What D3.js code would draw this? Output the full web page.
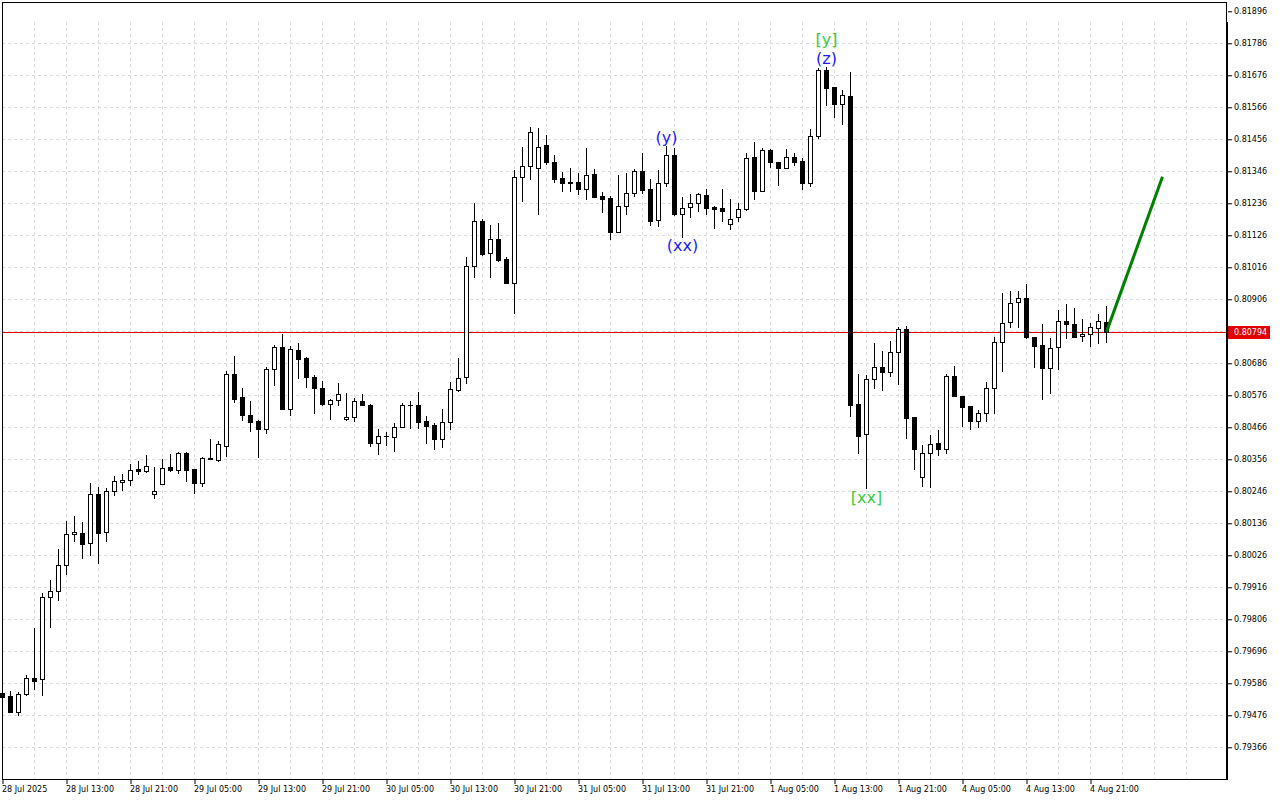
<!DOCTYPE html>
<html>
<head>
<meta charset="utf-8">
<script src="https://cdn.jsdelivr.net/npm/d3@7"></script>
<style>
  html, body { margin: 0; padding: 0; background: #fff; }
  svg { display: block; }
</style>
</head>
<body>
<svg id="chart"></svg>
<script>
// hourly bars, 28 Jul 05:00 .. 4 Aug 23:00
var opens = [
  0.79554,0.79542,0.79488,0.79548,0.79604,0.79600,0.79882,0.79902,0.79992,0.80098,
  0.80103,0.80067,0.80236,0.80107,0.80246,0.80279,0.80284,0.80322,0.80315,0.80236,
  0.80272,0.80329,0.80318,0.80377,0.80322,0.80276,0.80358,0.80355,0.80403,0.80649,
  0.80570,0.80508,0.80488,0.80461,0.80665,0.80741,0.80530,0.80732,0.80704,0.80639,
  0.80601,0.80545,0.80559,0.80493,0.80500,0.80555,0.80543,0.80413,0.80435,0.80433,
  0.80468,0.80542,0.80543,0.80487,0.80474,0.80427,0.80485,0.80595,0.80638,0.81019,
  0.81174,0.81064,0.81113,0.81043,0.80961,0.81325,0.81363,0.81356,0.81436,0.81377,
  0.81322,0.81309,0.81309,0.81284,0.81337,0.81260,0.81254,0.81138,0.81227,0.81270,
  0.81347,0.81285,0.81178,0.81305,0.81402,0.81200,0.81222,0.81236,0.81263,0.81223,
  0.81220,0.81164,0.81190,0.81215,0.81394,0.81279,0.81418,0.81377,0.81358,0.81394,
  0.81381,0.81307,0.81466,0.81694,0.81636,0.81578,0.81605,0.80546,0.80442,0.80631,
  0.80673,0.80657,0.80724,0.80803,0.80500,0.80294,0.80377,0.80411,0.80390,0.80641,
  0.80574,0.80539,0.80489,0.80514,0.80600,0.80758,0.80827,0.80896,0.80909,0.80775,
  0.80749,0.80671,0.80741,0.80831,0.80821,0.80779,0.80786,0.80806,0.80827
];
var highs = [
  0.79560,0.79561,0.79556,0.79614,0.79775,0.79896,0.79941,0.80048,0.80145,0.80161,
  0.80141,0.80273,0.80260,0.80256,0.80299,0.80305,0.80339,0.80350,0.80370,0.80329,
  0.80357,0.80374,0.80381,0.80381,0.80323,0.80364,0.80425,0.80418,0.80658,0.80711,
  0.80600,0.80556,0.80490,0.80674,0.80750,0.80787,0.80745,0.80755,0.80708,0.80645,
  0.80625,0.80563,0.80618,0.80583,0.80566,0.80579,0.80545,0.80459,0.80449,0.80482,
  0.80549,0.80557,0.80586,0.80506,0.80480,0.80529,0.80622,0.80704,0.81052,0.81237,
  0.81182,0.81161,0.81167,0.81052,0.81350,0.81429,0.81499,0.81495,0.81471,0.81402,
  0.81343,0.81356,0.81339,0.81425,0.81353,0.81275,0.81260,0.81333,0.81339,0.81353,
  0.81408,0.81318,0.81350,0.81434,0.81425,0.81257,0.81268,0.81272,0.81284,0.81227,
  0.81285,0.81250,0.81237,0.81408,0.81446,0.81426,0.81421,0.81378,0.81421,0.81410,
  0.81392,0.81490,0.81702,0.81706,0.81636,0.81625,0.81686,0.80649,0.80646,0.80756,
  0.80728,0.80763,0.80812,0.80814,0.80501,0.80404,0.80438,0.80457,0.80649,0.80677,
  0.80574,0.80539,0.80525,0.80622,0.80775,0.80927,0.80934,0.80934,0.80958,0.80776,
  0.80821,0.80773,0.80869,0.80890,0.80876,0.80838,0.80823,0.80855,0.80883
];
var lows = [
  0.79532,0.79487,0.79477,0.79546,0.79566,0.79546,0.79781,0.79872,0.79962,0.80076,
  0.80018,0.80027,0.80001,0.80076,0.80234,0.80250,0.80267,0.80304,0.80314,0.80222,
  0.80271,0.80317,0.80308,0.80282,0.80241,0.80264,0.80357,0.80349,0.80368,0.80554,
  0.80491,0.80454,0.80365,0.80447,0.80612,0.80529,0.80509,0.80636,0.80603,0.80514,
  0.80544,0.80493,0.80542,0.80491,0.80489,0.80541,0.80403,0.80373,0.80405,0.80386,
  0.80467,0.80465,0.80463,0.80413,0.80392,0.80399,0.80460,0.80590,0.80617,0.80982,
  0.81058,0.80984,0.81039,0.80962,0.80860,0.81245,0.81318,0.81200,0.81370,0.81310,
  0.81277,0.81277,0.81269,0.81250,0.81258,0.81207,0.81112,0.81137,0.81198,0.81261,
  0.81270,0.81162,0.81158,0.81296,0.81195,0.81121,0.81190,0.81211,0.81198,0.81150,
  0.81176,0.81149,0.81176,0.81214,0.81252,0.81278,0.81360,0.81298,0.81357,0.81368,
  0.81286,0.81294,0.81459,0.81574,0.81534,0.81509,0.80506,0.80379,0.80256,0.80600,
  0.80595,0.80643,0.80614,0.80428,0.80324,0.80265,0.80262,0.80372,0.80377,0.80572,
  0.80470,0.80461,0.80468,0.80489,0.80516,0.80661,0.80812,0.80810,0.80774,0.80674,
  0.80564,0.80585,0.80666,0.80772,0.80776,0.80764,0.80746,0.80757,0.80760
];
var closes = [
  0.79540,0.79488,0.79548,0.79603,0.79595,0.79883,0.79903,0.79992,0.80099,0.80106,
  0.80066,0.80236,0.80104,0.80246,0.80280,0.80284,0.80318,0.80315,0.80333,0.80246,
  0.80326,0.80318,0.80377,0.80320,0.80276,0.80360,0.80359,0.80408,0.80649,0.80564,
  0.80507,0.80485,0.80461,0.80665,0.80741,0.80530,0.80734,0.80702,0.80638,0.80600,
  0.80545,0.80560,0.80579,0.80500,0.80555,0.80542,0.80413,0.80435,0.80436,0.80468,
  0.80543,0.80544,0.80485,0.80471,0.80427,0.80483,0.80597,0.80635,0.81020,0.81174,
  0.81063,0.81112,0.81041,0.80963,0.81325,0.81363,0.81480,0.81428,0.81379,0.81321,
  0.81305,0.81305,0.81284,0.81332,0.81259,0.81250,0.81138,0.81228,0.81270,0.81347,
  0.81282,0.81176,0.81305,0.81402,0.81199,0.81219,0.81236,0.81268,0.81221,0.81217,
  0.81211,0.81181,0.81215,0.81391,0.81279,0.81418,0.81377,0.81358,0.81394,0.81379,
  0.81307,0.81466,0.81694,0.81633,0.81578,0.81607,0.80543,0.80436,0.80631,0.80672,
  0.80657,0.80724,0.80803,0.80499,0.80392,0.80377,0.80410,0.80390,0.80641,0.80574,
  0.80537,0.80489,0.80514,0.80600,0.80758,0.80826,0.80892,0.80909,0.80775,0.80746,
  0.80671,0.80738,0.80831,0.80822,0.80777,0.80787,0.80810,0.80830,0.80794
];

var timeLabels = ["28 Jul 2025","28 Jul 13:00","28 Jul 21:00","29 Jul 05:00","29 Jul 13:00",
  "29 Jul 21:00","30 Jul 05:00","30 Jul 13:00","30 Jul 21:00","31 Jul 05:00","31 Jul 13:00",
  "31 Jul 21:00","1 Aug 05:00","1 Aug 13:00","1 Aug 21:00","4 Aug 05:00","4 Aug 13:00","4 Aug 21:00"];
var timeLabelBars = [0,8,16,24,32,40,48,56,64,72,80,88,96,104,112,120,128,136];

var priceGrid = [0.81896,0.81786,0.81676,0.81566,0.81456,0.81346,0.81236,0.81126,0.81016,0.80906,
  0.80796,0.80686,0.80576,0.80466,0.80356,0.80246,0.80136,0.80026,0.79916,0.79806,0.79696,
  0.79586,0.79476,0.79366];
var priceLabels = [0.81896,0.81786,0.81676,0.81566,0.81456,0.81346,0.81236,0.81126,0.81016,0.80906,
  0.80686,0.80576,0.80466,0.80356,0.80246,0.80136,0.80026,0.79916,0.79806,0.79696,
  0.79586,0.79476,0.79366];
var currentPrice = 0.80794;

var forecastBars = [138, 145];
var forecastPrices = [0.80794, 0.81327];

var waveLabels = ["(y)", "(xx)", "(z)", "[y]", "[xx]"];
var waveBars = [83, 85, 103, 103, 108];
var waveSides = ["top", "bottom", "top", "top", "bottom"];

// layout
var W = 1280, H = 800;
var plot = { left: 2, top: 2, right: 1226, bottom: 779 };
var font = "'DejaVu Sans', sans-serif";

var svg = d3.select("#chart").attr("width", W).attr("height", H);
svg.append("rect").attr("width", W).attr("height", H).attr("fill", "#fff");

var x = d3.scaleLinear().domain([0, 1]).range([2.5, 10.5]);
var y = d3.scaleLinear().domain([0.79366, 0.81896]).range([747.3, 11.3]);

function py(v){ return Math.round(y(v)) + 0.5; }

// grid
var grid = svg.append("g")
  .attr("stroke", "#dcdcdc")
  .attr("stroke-dasharray", "3,3")
  .attr("fill", "none");

grid.selectAll("line.h")
  .data(priceGrid.slice(1))
  .enter().append("line")
  .attr("x1", plot.left).attr("x2", plot.right - 3)
  .attr("y1", function(d){ return py(d); })
  .attr("y2", function(d){ return py(d); });

grid.selectAll("line.v")
  .data(d3.range(4, 152, 4))
  .enter().append("line")
  .attr("x1", function(d){ return x(d); })
  .attr("x2", function(d){ return x(d); })
  .attr("y1", 22).attr("y2", plot.bottom);

// current price line
svg.append("line")
  .attr("x1", plot.left).attr("x2", plot.right)
  .attr("y1", py(currentPrice)).attr("y2", py(currentPrice))
  .attr("stroke", "#e00000");

// candles
var bars = d3.range(opens.length).map(function(i){
  return { i: i, o: opens[i], h: highs[i], l: lows[i], c: closes[i] };
});

var cg = svg.append("g");

cg.selectAll("line.wick")
  .data(bars)
  .enter().append("line")
  .attr("x1", function(d){ return x(d.i); })
  .attr("x2", function(d){ return x(d.i); })
  .attr("y1", function(d){ return Math.round(y(d.h)); })
  .attr("y2", function(d){ return Math.round(y(d.l)) + 1; })
  .attr("stroke", "#000");

cg.selectAll("rect.body")
  .data(bars.filter(function(d){ return Math.abs(py(d.o) - py(d.c)) >= 1; }))
  .enter().append("rect")
  .attr("x", function(d){ return x(d.i) - 2; })
  .attr("width", 4)
  .attr("y", function(d){ return Math.min(py(d.o), py(d.c)); })
  .attr("height", function(d){ return Math.abs(py(d.o) - py(d.c)); })
  .attr("fill", function(d){ return d.c < d.o ? "#000" : "#fff"; })
  .attr("stroke", "#000");

// doji
cg.selectAll("line.doji")
  .data(bars.filter(function(d){ return Math.abs(py(d.o) - py(d.c)) < 1; }))
  .enter().append("line")
  .attr("x1", function(d){ return x(d.i) - 2.5; })
  .attr("x2", function(d){ return x(d.i) + 2.5; })
  .attr("y1", function(d){ return py(d.c); })
  .attr("y2", function(d){ return py(d.c); })
  .attr("stroke", "#000");

// forecast
var fline = d3.line()
  .x(function(d){ return x(d[0]); })
  .y(function(d){ return y(d[1]); });

svg.append("path")
  .attr("d", fline(d3.zip(forecastBars, forecastPrices)))
  .attr("stroke", "#008000")
  .attr("stroke-width", 3)
  .attr("fill", "none");

// wave labels
var stack = {};
waveLabels.forEach(function(t, k){
  var b = waveBars[k], side = waveSides[k];
  var key = b + side;
  var lvl = stack[key] || 0;
  stack[key] = lvl + 1;
  var yy = side === "top" ? y(highs[b]) - 8 - lvl * 19 : y(lows[b]) + 9;
  svg.append("text")
    .attr("x", x(b))
    .attr("y", yy)
    .attr("text-anchor", "middle")
    .attr("dominant-baseline", "central")
    .attr("font-family", font)
    .attr("font-size", 16)
    .attr("fill", t.charAt(0) === "[" ? "#3ccc3c" : "#1a1aff")
    .text(t);
});

// frame
svg.append("rect")
  .attr("x", plot.left + 0.5).attr("y", plot.top + 0.5)
  .attr("width", plot.right - plot.left).attr("height", plot.bottom - plot.top)
  .attr("fill", "none").attr("stroke", "#000");

svg.append("line")
  .attr("x1", plot.right + 1).attr("x2", plot.right + 1)
  .attr("y1", 22).attr("y2", plot.bottom + 1)
  .attr("stroke", "#000").attr("stroke-width", 2);

// price axis
var yAxis = d3.axisRight(y)
  .tickValues(priceLabels)
  .tickSize(4)
  .tickSizeOuter(0)
  .tickPadding(2)
  .tickFormat(d3.format(".5f"));

var ya = svg.append("g")
  .attr("transform", "translate(" + (plot.right + 2) + ",0)")
  .call(yAxis);
ya.select(".domain").remove();
ya.selectAll("text").attr("font-family", font).attr("font-size", 8).attr("fill", "#000");
ya.selectAll("line").attr("stroke", "#000");

// time axis
var xAxis = d3.axisBottom(x)
  .tickValues(timeLabelBars)
  .tickSize(4)
  .tickSizeOuter(0)
  .tickPadding(2)
  .tickFormat(function(d, i){ return timeLabels[i]; });

var xa = svg.append("g")
  .attr("transform", "translate(0," + (plot.bottom + 1) + ")")
  .call(xAxis);
xa.select(".domain").remove();
xa.selectAll("text")
  .attr("text-anchor", "start")
  .attr("x", -1)
  .attr("font-family", font).attr("font-size", 8).attr("fill", "#000");
xa.selectAll("line").attr("stroke", "#000");

// current price tag
var cy = py(currentPrice);
svg.append("rect")
  .attr("x", plot.right + 2).attr("y", cy - 6.5)
  .attr("width", 42).attr("height", 13)
  .attr("fill", "#e00000");
svg.append("text")
  .attr("x", plot.right + 8).attr("y", cy)
  .attr("dominant-baseline", "central")
  .attr("font-family", font).attr("font-size", 8)
  .attr("fill", "#fff")
  .text(d3.format(".5f")(currentPrice));
</script>
</body>
</html>
